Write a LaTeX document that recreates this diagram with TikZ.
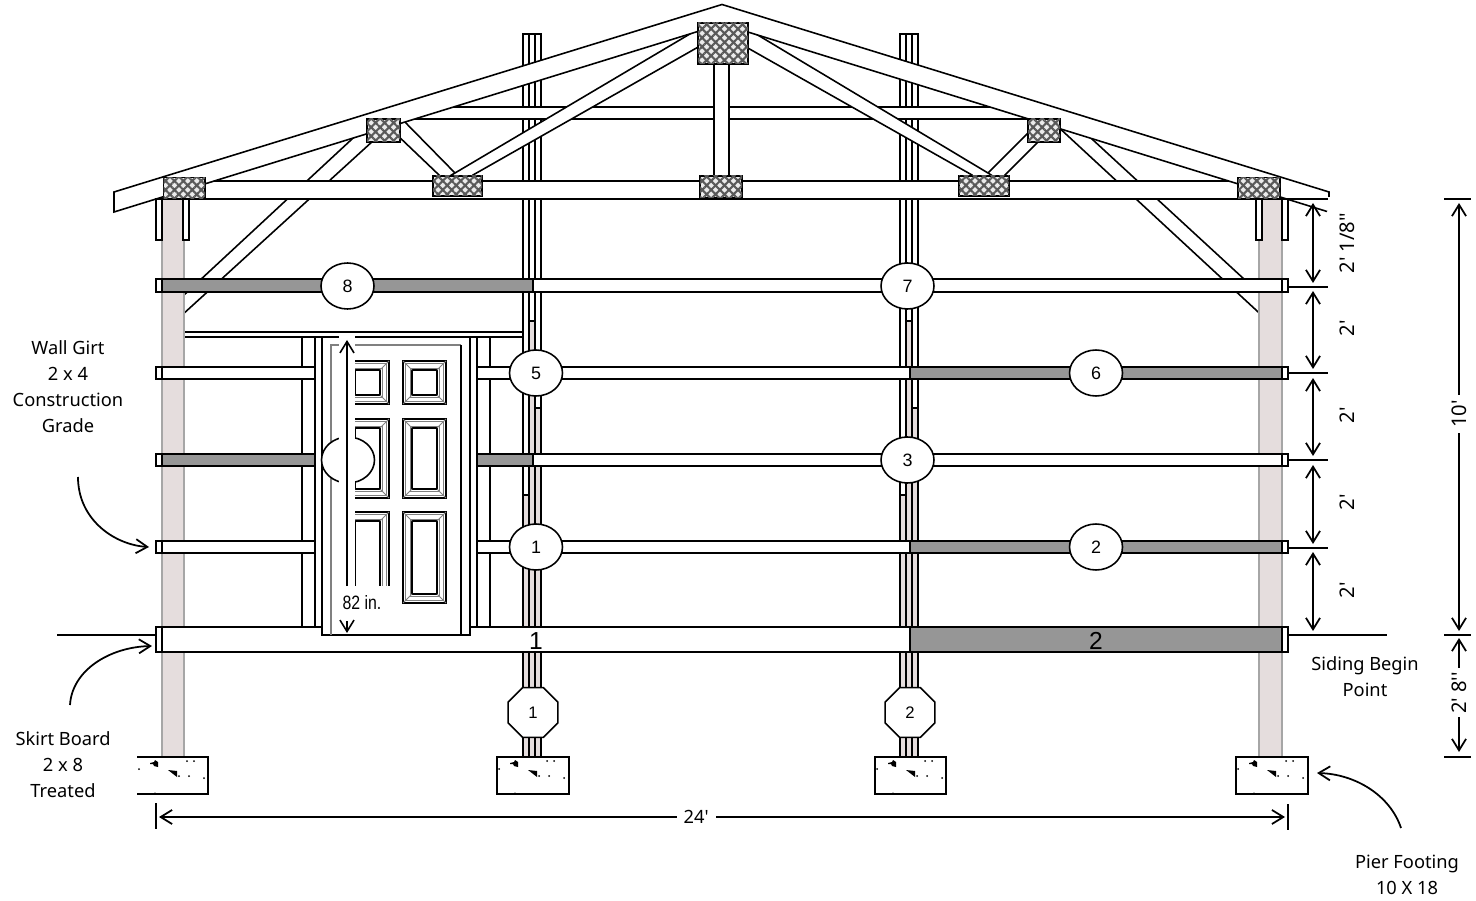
\documentclass[tikz,border=0pt]{standalone}
\usepackage{fontspec}
\usetikzlibrary{shapes.geometric,patterns.meta,arrows.meta}
\newfontfamily\labelfont{Noto Sans}
\newfontfamily\numfont{Liberation Sans}
\definecolor{postpink}{HTML}{E5DDDD}
\tikzset{speckle/.pic={
	\fill (13,6) -- (17,5) -- (18,3) -- (21,5) -- (21,10) -- (17,9) -- (16,7) -- (13,7) -- cycle;
	\fill (31,13) -- (40,14) -- (40,20) -- cycle;
	\fill (42,19) circle (1) (52,19) circle (1) (50,4) circle (1) (57,4) circle (1) (67,21) circle (1) (2,12) circle (1) (18,36) circle (.7);
}}
\newcommand{\doorpanel}[3]{
	\begin{scope}[shift={(#1,#2)}]
		\draw[line width=1pt] (0,0) rectangle (43,#3);
		\draw[gray,line width=.5pt] (2.5,2.5) rectangle (40.5,#3-2.5);
		\draw[gray,line width=.5pt] (7,7) rectangle (36,#3-7);
		\draw[line width=.7pt] (9,9) rectangle (34,#3-9);
		\draw[gray,line width=.5pt] (0,0) -- (9,9) (43,0) -- (34,9) (0,#3) -- (9,#3-9) (43,#3) -- (34,#3-9);
	\end{scope}
}
\begin{document}
\begin{tikzpicture}[x=0.02cm,y=-0.02cm,line width=.9pt,>={Straight Barb[length=6.5pt,width=8pt]}]
	\tikzstyle{timber}=[draw=black,fill=white]
	\tikzstyle{grey}=[draw=black,fill=black!41]
	\tikzstyle{post}=[draw=black!35,fill=postpink]
	\tikzstyle{pink}=[fill=postpink]
	\tikzstyle{gusset}=[draw=black,fill=black!8,postaction={pattern={Hatch[angle=45,distance=3.6pt,line width=1.2pt]},pattern color=black!65}]
	\tikzstyle{girtlabel}=[ellipse,draw=black,fill=white,minimum width=1.06cm,minimum height=.92cm,inner sep=0pt,font=\numfont\fontsize{10.2}{12}\selectfont]
	\tikzstyle{pierlabel}=[regular polygon,regular polygon sides=8,draw=black,fill=white,minimum size=1.08cm,inner sep=0pt,font=\numfont\fontsize{9.5}{12}\selectfont]
	\tikzstyle{skirtlabel}=[inner sep=0pt,font=\numfont\fontsize{14}{16}\selectfont]
	\tikzstyle{note}=[align=center,inner sep=0pt,font=\labelfont\fontsize{10.4}{14.9}\selectfont]
	\tikzstyle{dimlabel}=[rotate=90,fill=white,inner sep=2pt,font=\labelfont\fontsize{11.5}{12}\selectfont]
	\tikzstyle{dimen}=[<->,line width=1pt]
	\tikzstyle{leader}=[->,line width=1pt]
	\useasboundingbox (0,0) rectangle (1476,901);

	\filldraw[timber] (365,127) -- (385,130) -- (170,326) -- (170,308) -- cycle;
	\filldraw[timber] (1080,128) -- (1055,124) -- (1270,323) -- (1270,303) -- cycle;

	\draw[post] (162,199) rectangle (184,757);
	\draw[post] (1259,199) rectangle (1282,757);

	\draw[timber] (523,34) rectangle (541,757);
	\draw[timber] (900,34) rectangle (918,757);
	\fill[pink] (529,321) rectangle (535,757);
	\fill[pink] (535,408) rectangle (541,757);
	\fill[pink] (523,495) rectangle (529,757);
	\fill[pink] (906,321) rectangle (912,757);
	\fill[pink] (912,408) rectangle (918,757);
	\fill[pink] (900,495) rectangle (906,757);
	\draw (523,34) -- (523,757) (529,34) -- (529,757) (535,34) -- (535,757) (541,34) -- (541,757);
	\draw (900,34) -- (900,757) (906,34) -- (906,757) (912,34) -- (912,757) (918,34) -- (918,757);
	\draw (529,321) -- (535,321) (535,408) -- (541,408) (523,495) -- (529,495);
	\draw (906,321) -- (912,321) (912,408) -- (918,408) (900,495) -- (906,495);

	\draw[timber] (400,107) rectangle (1040,119);
	\draw[timber] (190,181) rectangle (1270,199);

	\filldraw[timber] (400,117) -- (455,173) -- (445,180) -- (439,175) -- (395,133) -- cycle;
	\filldraw[timber] (1030,131) -- (1042,138) -- (1005,175) -- (1005,180) -- (983,180) -- (988,173) -- cycle;
	\filldraw[timber] (700,28) -- (700,46) -- (473,175) -- (470,180) -- (443,180) -- (455,173) -- cycle;
	\filldraw[timber] (746,28) -- (746,47) -- (972,175) -- (975,180) -- (999,180) -- (988,173) -- cycle;
	\draw[timber] (714,60) rectangle (729,180);

	\fill[white] (114,192) -- (722,4.5) -- (1329,192) -- (1329,212) -- (722,24) -- (114,212) -- cycle;
	\draw (1329,197) -- (1329,192) -- (722,4.5) -- (114,192) -- (114,212) -- (722,24) -- (1327,211.5);
	\draw (205,199) -- (1328,199);

	\draw[gusset] (698,23) rectangle (748,64);
	\draw[gusset] (163.5,177.5) rectangle (205,199);
	\draw[gusset] (367,119) rectangle (400,142);
	\draw[gusset] (433,176) rectangle (482,196);
	\draw[gusset] (700,176) rectangle (742,198);
	\draw[gusset] (959,176) rectangle (1009,196);
	\draw[gusset] (1028,119) rectangle (1060,142);
	\draw[gusset] (1238,177.5) rectangle (1280,199);

	\draw[timber] (156,199) rectangle (162,240);
	\draw[timber] (183,199) rectangle (189,240);
	\draw[timber] (1256,199) rectangle (1262,240);
	\draw[timber] (1282,199) rectangle (1288,240);

	\draw[timber] (302,337) rectangle (315,627);
	\draw[timber] (477,337) rectangle (490,627);
	\draw[line width=1.3pt] (185,332) -- (523,332);
	\draw[line width=.7pt] (185,337) -- (523,337);

	\draw[timber] (156,279) rectangle (162,292);
	\draw[grey] (162,279) rectangle (533,292);
	\draw[timber] (533,279) rectangle (1282,292);
	\draw[timber] (1282,279) rectangle (1288,292);

	\draw[timber] (156,367) rectangle (162,379);
	\draw[timber] (162,367) rectangle (910,379);
	\draw[grey] (910,367) rectangle (1282,379);
	\draw[timber] (1282,367) rectangle (1288,379);

	\draw[timber] (156,454) rectangle (162,466);
	\draw[grey] (162,454) rectangle (533,466);
	\draw[timber] (533,454) rectangle (1282,466);
	\draw[timber] (1282,454) rectangle (1288,466);

	\draw[timber] (156,541) rectangle (162,553);
	\draw[timber] (162,541) rectangle (910,553);
	\draw[grey] (910,541) rectangle (1282,553);
	\draw[timber] (1282,541) rectangle (1288,553);

	\draw[timber] (156,627) rectangle (162,652);
	\draw[timber] (162,627) rectangle (910,652);
	\draw[grey] (910,627) rectangle (1282,652);
	\draw[timber] (1282,627) rectangle (1288,652);

	\draw[timber] (315,337) rectangle (322,627);
	\draw[timber] (470,337) rectangle (477,627);
	\draw[timber] (322,337) rectangle (470,635);
	\draw[gray] (331,635) -- (331,345) -- (461,345);
	\draw (461,345) -- (461,635);
	\doorpanel{346}{361}{43}
	\doorpanel{403}{361}{43}
	\doorpanel{346}{419}{79}
	\doorpanel{403}{419}{79}
	\doorpanel{346}{512}{91}
	\doorpanel{403}{512}{91}

	\node[girtlabel] (C8) at (347.5,286) {8};
	\node[girtlabel] (C7) at (907.5,286) {7};
	\node[girtlabel] (C5) at (536,373) {5};
	\node[girtlabel] (C6) at (1096,373) {6};
	\node[girtlabel] (C4) at (348,460) {};
	\node[girtlabel] (C3) at (907.5,460) {3};
	\node[girtlabel] (C1) at (536,547) {1};
	\node[girtlabel] (C2) at (1096,547) {2};
	\node[skirtlabel] (S1) at (536,641) {1};
	\node[skirtlabel] (S2) at (1096,641) {2};

	\fill[white] (339,335.5) rectangle (355,586);
	\fill[white] (339,586) rectangle (390,634);
	\coordinate (H1) at (347,340);
	\coordinate (H2) at (347,586);
	\coordinate (H3) at (347,621);
	\coordinate (H4) at (347,633);
	\draw[->] (H2) -- (H1);
	\draw[->] (H3) -- (H4);
	\node[inner sep=0pt,xscale=.82,font=\numfont\fontsize{11}{12}\selectfont] (N82) at (362,603) {82 in.};

	\draw[timber] (137,757) -- (208,757) -- (208,794) -- (137,794);
	\draw[timber] (497,757) rectangle (569,794);
	\draw[timber] (875,757) rectangle (946,794);
	\draw[timber] (1236,757) rectangle (1308,794);
	\pic at (137,757) {speckle};
	\pic at (497,757) {speckle};
	\pic at (875,757) {speckle};
	\pic at (1236,757) {speckle};

	\node[pierlabel] (P1) at (533,712.5) {1};
	\node[pierlabel] (P2) at (910,712.5) {2};

	\draw (57,635) -- (156,635);
	\draw (1288,635) -- (1387,635);
	\draw (1288,287) -- (1328,287);
	\draw (1288,373) -- (1328,373);
	\draw (1288,460) -- (1328,460);
	\draw (1288,548) -- (1328,548);
	\draw (1444,199) -- (1471,199);
	\draw (1444,635) -- (1471,635);
	\draw (1444,757) -- (1471,757);
	\draw (156,803) -- (156,829);
	\draw (1288,804) -- (1288,830);

	\coordinate (R1) at (1313,203);
	\coordinate (R2) at (1313,283);
	\coordinate (R3) at (1313,291);
	\coordinate (R4) at (1313,369);
	\coordinate (R5) at (1313,378);
	\coordinate (R6) at (1313,456);
	\coordinate (R7) at (1313,465);
	\coordinate (R8) at (1313,544);
	\coordinate (R9) at (1313,552);
	\coordinate (R10) at (1313,631);
	\draw[dimen] (R1) -- (R2);
	\draw[dimen] (R3) -- (R4);
	\draw[dimen] (R5) -- (R6);
	\draw[dimen] (R7) -- (R8);
	\draw[dimen] (R9) -- (R10);
	\node[dimlabel] (L1) at (1347,243) {2'\hspace{.25em}1/8''};
	\node[dimlabel] (L2) at (1347,328) {2'};
	\node[dimlabel] (L3) at (1347,415) {2'};
	\node[dimlabel] (L4) at (1347,502) {2'};
	\node[dimlabel] (L5) at (1347,590) {2'};

	\coordinate (W1) at (1459,203);
	\coordinate (W2) at (1459,631);
	\coordinate (W3) at (1459,638);
	\coordinate (W4) at (1459,752);
	\coordinate (W5) at (159,817);
	\coordinate (W6) at (1285,817);
	\draw[dimen] (W1) -- node[dimlabel,pos=.505,xshift=.1cm,inner sep=3pt] (L10) {10'} (W2);
	\draw[dimen] (W3) -- node[dimlabel,pos=.525,xshift=.1cm] (L28) {2'\hspace{.25em}8''} (W4);
	\draw[dimen] (W5) -- node[dimlabel,rotate=-90,pos=.477,inner sep=4pt,font=\labelfont\fontsize{10.4}{12}\selectfont] (L24) {24'} (W6);

	\node[note] (Wall) at (68,386.5) {Wall Girt\\2 x 4\\Construction\\Grade};
	\node[note] (Skirt) at (63,764.5) {Skirt Board\\2 x 8\\Treated};
	\node[note] (Siding) at (1365,677) {Siding Begin\\Point};
	\node[note] (Pier) at (1407,875) {Pier Footing\\10 X 18};

	\coordinate (T1) at (78,477);
	\coordinate (T2) at (149,547);
	\coordinate (T3) at (70,705);
	\coordinate (T4) at (152,646);
	\coordinate (T5) at (1401,828);
	\coordinate (T6) at (1317,773);
	\draw[leader] (T1) .. controls (78,520) and (115,545) .. (T2);
	\draw[leader] (T3) .. controls (72,670) and (110,647) .. (T4);
	\draw[leader] (T5) .. controls (1390,795) and (1355,774) .. (T6);
\end{tikzpicture}
\end{document}
